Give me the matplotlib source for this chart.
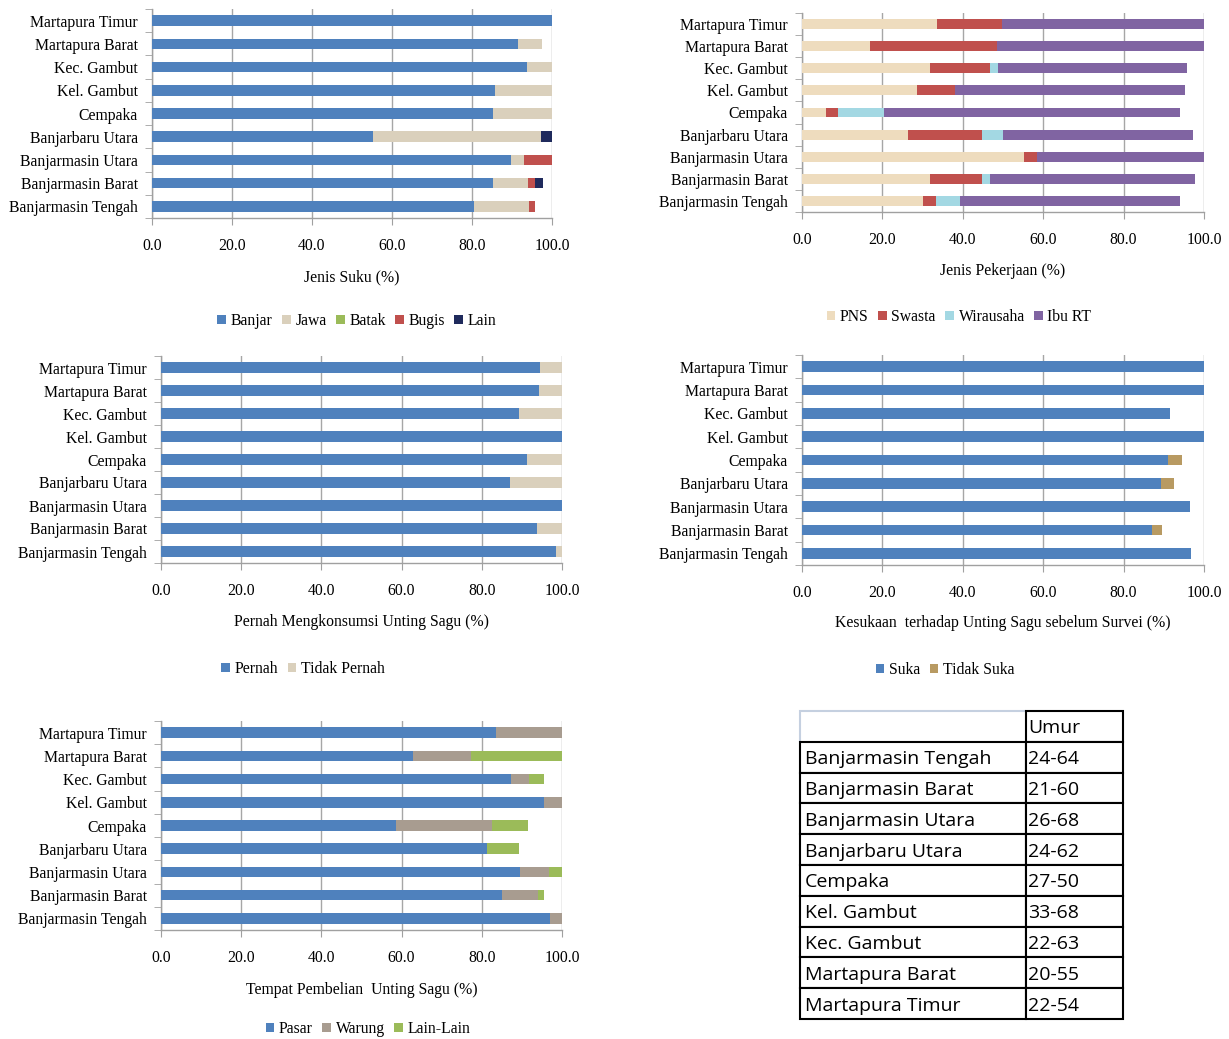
import numpy as np
import matplotlib as mpl
import matplotlib.pyplot as plt
from matplotlib.patches import Patch

mpl.rcParams.update({
    "font.family": "serif",
    "font.serif": ["Liberation Serif", "DejaVu Serif"],
    "axes.linewidth": 1.0,
})

FS = 11.3

# ===== DATA =====
# sites, listed bottom -> top as they appear on the y axis
SITES = ["Banjarmasin Tengah", "Banjarmasin Barat", "Banjarmasin Utara",
         "Banjarbaru Utara", "Cempaka", "Kel. Gambut", "Kec. Gambut",
         "Martapura Barat", "Martapura Timur"]

# Jenis Suku (%)
banjar = [80.6, 85.3, 89.8, 55.3, 85.3, 85.8, 93.8, 91.6, 100.0]
jawa   = [13.6, 8.6, 3.1, 42.0, 14.7, 14.2, 6.2, 5.8, 0.0]
batak  = [0.0, 0.0, 0.0, 0.0, 0.0, 0.0, 0.0, 0.0, 0.0]
bugis  = [1.6, 1.9, 7.1, 0.0, 0.0, 0.0, 0.0, 0.0, 0.0]
lain   = [0.0, 2.0, 0.0, 2.7, 0.0, 0.0, 0.0, 0.0, 0.0]

# Jenis Pekerjaan (%)
pns       = [30.1, 31.9, 55.2, 26.4, 6.0, 28.7, 31.9, 16.9, 33.6]
swasta    = [3.3, 12.9, 3.3, 18.4, 3.0, 9.4, 14.9, 31.5, 16.1]
wirausaha = [6.0, 2.0, 0.0, 5.1, 11.5, 0.0, 2.0, 0.0, 0.0]
ibu_rt    = [54.6, 50.9, 41.5, 47.4, 73.5, 57.1, 46.9, 51.6, 50.3]

# Pernah mengkonsumsi (%)
pernah       = [98.4, 93.8, 100.0, 87.0, 91.3, 100.0, 89.4, 94.2, 94.5]
tidak_pernah = [1.6, 6.2, 0.0, 13.0, 8.7, 0.0, 10.6, 5.8, 5.5]

# Kesukaan sebelum survei (%)
suka       = [96.7, 87.1, 96.4, 89.3, 91.1, 100.0, 91.5, 100.0, 100.0]
tidak_suka = [0.0, 2.4, 0.0, 3.2, 3.4, 0.0, 0.0, 0.0, 0.0]

# Tempat pembelian (%)
pasar     = [96.9, 85.1, 89.6, 81.4, 58.7, 95.5, 87.2, 62.9, 83.5]
warung    = [3.1, 8.8, 7.1, 0.0, 23.8, 4.5, 4.5, 14.3, 16.5]
lain_lain = [0.0, 1.7, 3.3, 7.9, 8.9, 0.0, 3.9, 22.8, 0.0]

# Umur table (top -> bottom)
TABLE_SITES = ["Banjarmasin Tengah", "Banjarmasin Barat", "Banjarmasin Utara",
               "Banjarbaru Utara", "Cempaka", "Kel. Gambut", "Kec. Gambut",
               "Martapura Barat", "Martapura Timur"]
UMUR = ["24-64", "21-60", "26-68", "24-62", "27-50", "33-68", "22-63",
        "20-55", "22-54"]

# ===== COLOURS =====
BLUE   = "#4F81BD"
BEIGE  = "#DAD0BC"
GREEN  = "#9BBB59"
RED    = "#C0504D"
NAVY   = "#1F2A5C"
TAN    = "#EEDCBE"
CYAN   = "#A3D8E3"
PURPLE = "#8064A2"
GOLD   = "#B89A62"
GREYBR = "#A89C90"

W, H = 1229, 1039
fig = plt.figure(figsize=(W / 100, H / 100), dpi=100)


def px_axes(left, top, right, bottom):
    return fig.add_axes([left / W, 1 - bottom / H, (right - left) / W, (bottom - top) / H])


def stacked(ax, series, colors):
    y = np.arange(len(SITES))
    base = np.zeros(len(SITES))
    for vals, c in zip(series, colors):
        vals = np.asarray(vals)
        ax.barh(y, vals, left=base, height=0.45, color=c, zorder=3, linewidth=0)
        base = base + vals
    ax.set_xlim(0, 100)
    ax.set_ylim(-0.5, len(SITES) - 0.5)
    ax.set_xticks(np.arange(0, 101, 20))
    ax.set_xticklabels([f"{v:.1f}" for v in np.arange(0, 101, 20)], fontsize=FS)
    ax.set_yticks(y)
    ax.set_yticklabels(SITES, fontsize=FS)
    ax.set_yticks(np.arange(-0.5, len(SITES), 1.0), minor=True)
    ax.tick_params(axis="y", which="major", length=0, pad=10)
    ax.tick_params(axis="y", which="minor", length=5, color="#A0A0A0", direction="out")
    ax.tick_params(axis="x", length=5, color="#A0A0A0", direction="out", pad=9.5)
    ax.grid(axis="x", color="#A6A6A6", linewidth=1.0, zorder=0)
    for s in ["top", "right"]:
        ax.spines[s].set_visible(False)
    for s in ["left", "bottom"]:
        ax.spines[s].set_color("#A0A0A0")


def legend_at(labels, colors, x, y):
    handles = [Patch(facecolor=c, edgecolor="none") for c in colors]
    fig.legend(handles, labels, loc="center", bbox_to_anchor=(x / W, 1 - y / H),
               ncol=len(labels), frameon=False, fontsize=FS, handlelength=0.55,
               handleheight=0.55, handletextpad=0.3, columnspacing=0.6)


# Jenis Suku
ax1 = px_axes(152, 9, 552, 218)
stacked(ax1, [banjar, jawa, batak, bugis, lain], [BLUE, BEIGE, GREEN, RED, NAVY])
fig.text(352 / W, 1 - 277 / H, "Jenis Suku (%)", ha="center", va="center", fontsize=FS)
legend_at(["Banjar", "Jawa", "Batak", "Bugis", "Lain"],
          [BLUE, BEIGE, GREEN, RED, NAVY], 357, 321)

# Jenis Pekerjaan
ax2 = px_axes(802, 13, 1204, 212)
stacked(ax2, [pns, swasta, wirausaha, ibu_rt], [TAN, RED, CYAN, PURPLE])
fig.text(1003 / W, 1 - 271 / H, "Jenis Pekerjaan (%)", ha="center", va="center", fontsize=FS)
legend_at(["PNS", "Swasta", "Wirausaha", "Ibu RT"], [TAN, RED, CYAN, PURPLE], 959, 317)

# Pernah mengkonsumsi
ax3 = px_axes(161, 356, 562, 563)
stacked(ax3, [pernah, tidak_pernah], [BLUE, BEIGE])
fig.text(361 / W, 1 - 622 / H, "Pernah Mengkonsumsi Unting Sagu (%)",
         ha="center", va="center", fontsize=FS)
legend_at(["Pernah", "Tidak Pernah"], [BLUE, BEIGE], 303, 669)

# Kesukaan
ax4 = px_axes(802, 355, 1204, 565)
stacked(ax4, [suka, tidak_suka], [BLUE, GOLD])
fig.text(1003 / W, 1 - 623 / H, "Kesukaan  terhadap Unting Sagu sebelum Survei (%)",
         ha="center", va="center", fontsize=FS)
legend_at(["Suka", "Tidak Suka"], [BLUE, GOLD], 945, 670)

# Tempat pembelian
ax5 = px_axes(161, 721, 562, 930)
stacked(ax5, [pasar, warung, lain_lain], [BLUE, GREYBR, GREEN])
fig.text(362 / W, 1 - 990 / H, "Tempat Pembelian  Unting Sagu (%)",
         ha="center", va="center", fontsize=FS)
legend_at(["Pasar", "Warung", "Lain-Lain"], [BLUE, GREYBR, GREEN], 368, 1029)

# Umur table
axt = px_axes(800, 711, 1123, 1019)
axt.axis("off")
cells = [["", "Umur"]] + [[s, u] for s, u in zip(TABLE_SITES, UMUR)]
tbl = axt.table(cellText=cells, colWidths=[0.70, 0.30], bbox=[0, 0, 1, 1],
                cellLoc="left")
tbl.auto_set_font_size(False)
for (r, c), cell in tbl.get_celld().items():
    cell.set_linewidth(1.5)
    cell.set_edgecolor("black")
    cell.PAD = 0.02
    txt = cell.get_text()
    txt.set_fontsize(14)
    txt.set_fontfamily(["Open Sans", "DejaVu Sans"])
    txt.set_va("center_baseline")
    if (r, c) == (0, 0):
        cell.visible_edges = "TL"
        cell.set_edgecolor("#C5D0E0")
        cell.set_zorder(0)

fig.savefig("out.png", dpi=100)
